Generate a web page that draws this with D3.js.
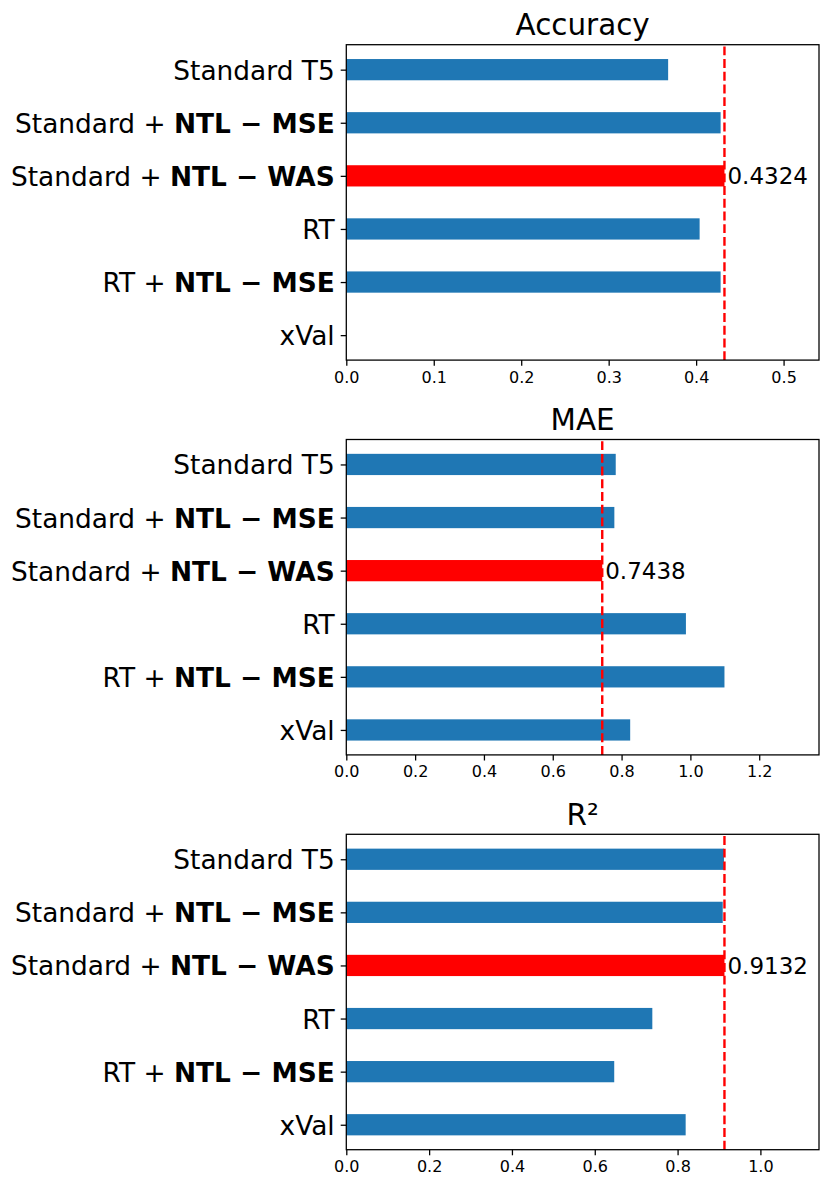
<!DOCTYPE html>
<html>
<head>
<meta charset="utf-8">
<script src="https://cdn.jsdelivr.net/npm/d3@7"></script>
<style>
  body { margin: 0; background: #fff; }
  text { font-family: "DejaVu Sans", sans-serif; }
</style>
</head>
<body>
<div id="chart"></div>
<script>
// category labels, split into plain part and bold part
var labelPlain = ["Standard T5", "Standard + ", "Standard + ", "RT", "RT + ", "xVal"];
var labelBold = ["", "NTL \u2212 MSE", "NTL \u2212 WAS", "", "NTL \u2212 MSE", ""];

var accuracy = [0.368, 0.428, 0.4324, 0.404, 0.428, 0];
var mae = [0.783, 0.779, 0.7438, 0.987, 1.099, 0.825];
var r2 = [0.912, 0.909, 0.9132, 0.739, 0.647, 0.8195];

var accTicks = [0, 0.1, 0.2, 0.3, 0.4, 0.5];
var maeTicks = [0, 0.2, 0.4, 0.6, 0.8, 1.0, 1.2];
var r2Ticks = [0, 0.2, 0.4, 0.6, 0.8, 1.0];

var highlight = 2;

function init() {
    var w = 831;
    var h = 1190;
    var left = 346.3;
    var right = 819;
    var panelH = 315.4;
    var tops = [44.7, 439.5, 834.3];

    var panels = [
        { title: "Accuracy", values: accuracy, ticks: accTicks },
        { title: "MAE", values: mae, ticks: maeTicks },
        { title: "R\u00b2", values: r2, ticks: r2Ticks }
    ];

    var svg = d3.select("#chart")
        .append("svg")
        .attr("width", w)
        .attr("height", h);

    panels.forEach(function(p, k) {
        var top = tops[k];
        var g = svg.append("g").attr("transform", "translate(" + left + "," + top + ")");
        var iw = right - left;

        var xScale = d3.scaleLinear()
            .domain([0, d3.max(p.values) * 1.25])
            .range([0, iw]);

        // bars are 0.4 tall, matplotlib adds 5% margin
        var yScale = d3.scaleLinear()
            .domain([-0.47, 5.47])
            .range([0, panelH]);

        var barH = yScale(0.4) - yScale(0);

        g.selectAll("rect.bar")
            .data(p.values)
            .enter()
            .append("rect")
            .attr("class", "bar")
            .attr("x", xScale(0))
            .attr("y", function(d, i) { return yScale(i - 0.2); })
            .attr("width", function(d) { return xScale(d) - xScale(0); })
            .attr("height", barH)
            .attr("fill", function(d, i) { return i === highlight ? "#ff0000" : "#1f77b4"; });

        var best = p.values[highlight];

        // dashed reference line, drawn bottom to top like axvline
        g.append("line")
            .attr("x1", xScale(best))
            .attr("x2", xScale(best))
            .attr("y1", panelH)
            .attr("y2", 0)
            .attr("stroke", "#ff0000")
            .attr("stroke-width", 2.4)
            .attr("stroke-dasharray", "8.9,3.8");

        g.append("text")
            .attr("x", xScale(best) + 3)
            .attr("y", yScale(highlight))
            .attr("dy", "0.36em")
            .style("font-size", "23px")
            .text(best.toFixed(4));

        var xAxis = d3.axisBottom(xScale)
            .tickValues(p.ticks)
            .tickFormat(d3.format(".1f"))
            .tickSize(5.6)
            .tickPadding(5.6);

        var xg = g.append("g")
            .attr("transform", "translate(0," + panelH + ")")
            .call(xAxis);
        xg.select(".domain").remove();
        xg.selectAll("line").attr("stroke-width", 1.28);
        xg.selectAll("text")
            .style("font-size", "16px")
            .style("font-family", "DejaVu Sans, sans-serif")
            .attr("fill", "#000");

        var yAxis = d3.axisLeft(yScale)
            .tickValues([0, 1, 2, 3, 4, 5])
            .tickFormat("")
            .tickSize(5.6)
            .tickPadding(5.6);

        var yg = g.append("g").call(yAxis);
        yg.select(".domain").remove();
        yg.selectAll("line").attr("stroke-width", 1.28);

        yg.selectAll(".tick").each(function(d) {
            var t = d3.select(this).select("text")
                .attr("x", -11.6)
                .attr("dy", "0.36em")
                .attr("fill", "#000")
                .style("font-size", "26.4px")
                .style("font-family", "DejaVu Sans, sans-serif")
                .text(null);
            t.append("tspan").text(labelPlain[d]);
            if (labelBold[d]) {
                t.append("tspan").attr("font-weight", "bold").text(labelBold[d]);
            }
        });

        // frame
        g.append("rect")
            .attr("x", 0)
            .attr("y", 0)
            .attr("width", iw)
            .attr("height", panelH)
            .attr("fill", "none")
            .attr("stroke", "#000")
            .attr("stroke-width", 1.28);

        g.append("text")
            .attr("x", iw / 2)
            .attr("y", -9.6)
            .attr("text-anchor", "middle")
            .style("font-size", "29.4px")
            .text(p.title);
    });
}

window.onload = init;
</script>
</body>
</html>
